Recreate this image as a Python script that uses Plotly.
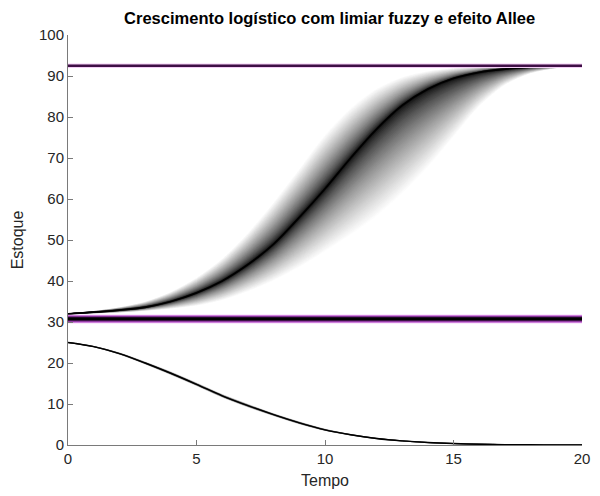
import plotly.graph_objects as go
from plotly.colors import sample_colorscale

# Time grid (years)
tempo = list(range(0, 21))

# Stock trajectory for the modal threshold (membership 1)
estoque_centro = [32.0, 32.4, 32.9, 33.6, 35.0, 37.1, 40.0, 44.0, 49.0, 55.5, 62.5,
                  70.0, 77.0, 82.8, 86.8, 89.4, 90.9, 91.7, 92.2, 92.4, 92.5]
# Fastest trajectory (lowest threshold, membership 0)
estoque_rapido = [32.0, 32.6, 33.5, 34.9, 37.3, 40.8, 45.5, 51.8, 59.3, 67.5, 75.8,
                  82.3, 87.0, 89.8, 91.2, 91.9, 92.2, 92.4, 92.5, 92.5, 92.5]
# Slowest trajectory (highest threshold, membership 0)
estoque_lento = [32.0, 32.2, 32.4, 32.8, 33.3, 34.0, 35.3, 37.4, 40.0, 43.2, 47.0,
                 51.0, 55.5, 61.0, 67.5, 75.0, 82.5, 87.8, 90.7, 92.0, 92.5]

# Trajectory starting below the Allee threshold (collapse)
declinio_centro = [25.0, 24.0, 22.3, 20.0, 17.5, 14.8, 12.0, 9.6, 7.4, 5.4, 3.7,
                   2.5, 1.6, 1.0, 0.6, 0.35, 0.2, 0.1, 0.05, 0.03, 0.02]
declinio_lento = [25.0, 24.1, 22.5, 20.3, 17.9, 15.2, 12.4, 10.0, 7.7, 5.7, 3.9,
                  2.6, 1.7, 1.05, 0.65, 0.38, 0.22, 0.11, 0.06, 0.03, 0.02]
declinio_rapido = [25.0, 23.9, 22.1, 19.7, 17.1, 14.4, 11.6, 9.2, 7.1, 5.1, 3.5,
                   2.4, 1.5, 0.95, 0.55, 0.32, 0.18, 0.09, 0.05, 0.03, 0.02]

# Fuzzy Allee threshold (levels and membership) and carrying capacity
limiar_niveis = [29.9, 30.1, 30.3, 30.5, 30.7, 30.85, 31.0, 31.2, 31.4, 31.6]
limiar_pertinencia = [0.0, 0.3, 0.6, 0.85, 1.0, 1.0, 0.85, 0.6, 0.3, 0.0]
capacidade = 92.5

fig = go.Figure()


def faixa_fuzzy(superior, inferior, centro, n_camadas, gama=0.65):
    """Nested alpha-cut envelopes, lightest (membership 0) drawn first, darkest last."""
    for k in range(n_camadas, 0, -1):
        w = k / n_camadas
        sup = [c + (s - c) * w for s, c in zip(superior, centro)]
        inf = [c + (i - c) * w for i, c in zip(inferior, centro)]
        g = int(round(255 * w ** gama))
        cor = f"rgb({g},{g},{g})"
        fig.add_trace(go.Scatter(x=tempo + tempo[::-1], y=sup + inf[::-1], mode="lines",
                                 line=dict(width=0.5, color=cor, shape="spline", smoothing=0.8),
                                 fill="toself", fillcolor=cor,
                                 hoverinfo="skip", showlegend=False))


faixa_fuzzy(estoque_rapido, estoque_lento, estoque_centro, 50)
fig.add_trace(go.Scatter(x=tempo, y=estoque_centro, mode="lines",
                         line=dict(color="black", width=1.8, shape="spline"), showlegend=False))

faixa_fuzzy(declinio_lento, declinio_rapido, declinio_centro, 8)
fig.add_trace(go.Scatter(x=tempo, y=declinio_centro, mode="lines",
                         line=dict(color="black", width=1.4, shape="spline"), showlegend=False))

# Threshold levels coloured by membership (pink -> purple -> black)
escala = [[0.0, "#e9a6f2"], [0.45, "#9a33b0"], [1.0, "#000000"]]
ordem = sorted(range(len(limiar_niveis)), key=lambda i: limiar_pertinencia[i])
for i in ordem:
    cor = sample_colorscale(escala, [limiar_pertinencia[i]])[0]
    fig.add_trace(go.Scatter(x=[tempo[0], tempo[-1]], y=[limiar_niveis[i]] * 2, mode="lines",
                             line=dict(color=cor, width=1.6), hoverinfo="skip", showlegend=False))

# Carrying capacity
fig.add_trace(go.Scatter(x=[tempo[0], tempo[-1]], y=[capacidade] * 2, mode="lines",
                         line=dict(color="#f3cdf5", width=4.5), hoverinfo="skip", showlegend=False))
fig.add_trace(go.Scatter(x=[tempo[0], tempo[-1]], y=[capacidade] * 2, mode="lines",
                         line=dict(color="#3e0f45", width=2.5), hoverinfo="skip", showlegend=False))

fonte = "Liberation Sans, Arial, sans-serif"
eixo = dict(showline=True, linecolor="#7a7a7a", linewidth=1, ticks="inside", ticklen=5,
            tickcolor="#7a7a7a", showgrid=False, zeroline=False, mirror=False,
            tickfont=dict(family=fonte, size=15, color="#262626"))

fig.update_layout(
    width=600, height=496,
    margin=dict(l=68, r=10, t=35, b=50),
    paper_bgcolor="white", plot_bgcolor="white",
    title=dict(text="<b>Crescimento logístico com limiar fuzzy e efeito Allee</b>",
               x=0.509, xref="paper", y=0.963, yref="container", xanchor="center", yanchor="middle",
               font=dict(family=fonte, size=16.5, color="black")),
    xaxis=dict(eixo, range=[0, 20], tickvals=[0, 5, 10, 15, 20],
               title=dict(text="Tempo", font=dict(family=fonte, size=16, color="#262626"), standoff=8)),
    yaxis=dict(eixo, range=[0, 100], tickvals=list(range(0, 101, 10)),
               title=dict(text="Estoque", font=dict(family=fonte, size=16, color="#262626"), standoff=11)),
)

fig.write_html("out.html")
